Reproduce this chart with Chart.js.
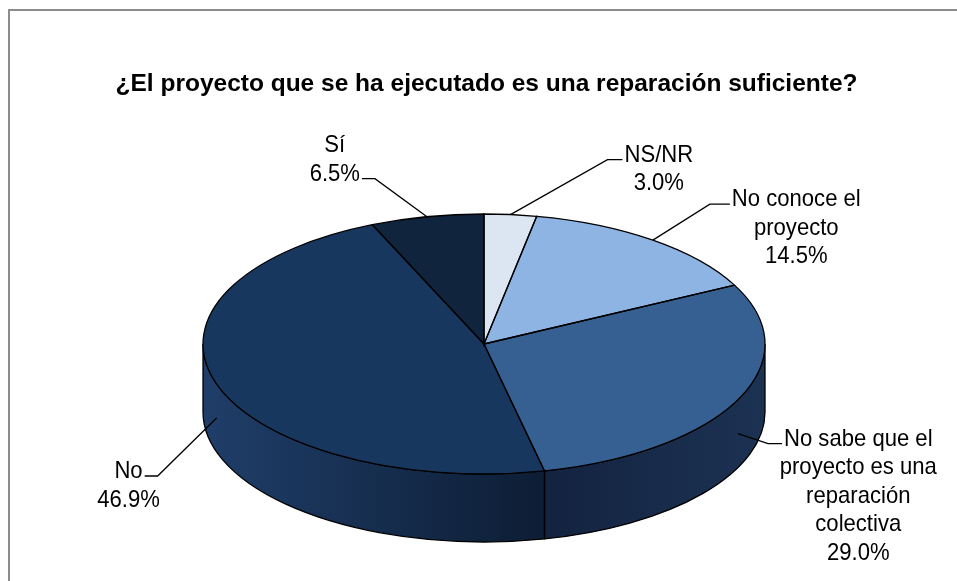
<!DOCTYPE html>
<html lang="es">
<head>
<meta charset="UTF-8">
<title>¿El proyecto que se ha ejecutado es una reparación suficiente?</title>
<script src="https://cdn.jsdelivr.net/npm/chart.js"></script>
<style>
  body { margin: 0; background: #fff; overflow: hidden; }
  .frame { position: absolute; left: 8px; top: 9px; width: 1000px; height: 700px; border: 2px solid #8c8c8c; }
  #wrap { position: absolute; left: 0; top: 0; width: 957px; height: 581px; }
</style>
</head>
<body>
<div class="frame"></div>
<div id="wrap"><canvas id="pieChart"></canvas></div>
<script>
// data, in drawing order (clockwise from the top)
const categories = ['NS/NR', 'No conoce el proyecto', 'No sabe que el proyecto es una reparación colectiva', 'No', 'Sí'];
const labelLines = [['NS/NR'], ['No conoce el', 'proyecto'], ['No sabe que el', 'proyecto es una', 'reparación', 'colectiva'], ['No'], ['Sí']];
const values = [3.0, 14.5, 29.0, 46.9, 6.5];
const valueLabels = ['3.0%', '14.5%', '29.0%', '46.9%', '6.5%'];

const faceColors = ['#DCE6F2', '#8EB4E3', '#376092', '#17375E', '#10243E'];
const sideColors = [['#6b7a8c', '#6b7a8c'], ['#44618a', '#44618a'], ['#132340', '#1c3253'], ['#1f3e69', '#0d1d34'], ['#0a1628', '#0a1628']];

const FONT = "'Liberation Sans Narrow', 'Arial Narrow', 'Liberation Sans', Arial, sans-serif";
const LABEL_SQUEEZE = 0.92; // regular Liberation Sans squeezed a bit to look like Arial Narrow

// where the flattened pie sits on the page
const tilt = { cx: 484, cy: 344, rx: 281, ry: 130, depth: 68 };

// leader line layout for each label
const labelLayout = [
    { ex: 97, ey: -55, hx: 15, join: 'first' },
    { ex: 57, ey: -36, hx: 20, join: 'first' },
    { ex: 30, ey: 10, hx: 14, join: 'first' },
    { ex: -59, ey: 58, hx: -13, join: 'first' },
    { ex: -52, ey: -38, hx: -13, join: 'last' }
];

function withTilt(ctx, arc, fn) {
    ctx.save();
    ctx.translate(tilt.cx, tilt.cy);
    ctx.scale(tilt.rx / arc.outerRadius, tilt.ry / arc.outerRadius);
    ctx.translate(-arc.x, -arc.y);
    fn();
    ctx.restore();
}

const pie3d = {
    id: 'pie3d',
    beforeDatasetsDraw(chart) {
        const ctx = chart.ctx;
        const arcs = chart.getDatasetMeta(0).data;
        // sides of the front half
        arcs.forEach((arc, i) => {
            const a0 = Math.max(arc.startAngle, 0);
            const a1 = Math.min(arc.endAngle, Math.PI);
            if (a1 <= a0) return;
            const D = tilt.depth * arc.outerRadius / tilt.ry;
            withTilt(ctx, arc, () => {
                ctx.beginPath();
                ctx.arc(arc.x, arc.y, arc.outerRadius, a0, a1);
                ctx.arc(arc.x, arc.y + D, arc.outerRadius, a1, a0, true);
                ctx.closePath();
            });
            const xa = tilt.cx + tilt.rx * Math.cos(a0);
            const xb = tilt.cx + tilt.rx * Math.cos(a1);
            const g = ctx.createLinearGradient(Math.min(xa, xb), 0, Math.max(xa, xb), 0);
            g.addColorStop(0, sideColors[i][0]);
            g.addColorStop(1, sideColors[i][1]);
            ctx.fillStyle = g;
            ctx.fill();
            ctx.lineWidth = 1.3;
            ctx.strokeStyle = '#000';
            ctx.stroke();
        });
        // top faces are drawn by Chart.js inside this transform
        const a = arcs[0];
        ctx.save();
        ctx.translate(tilt.cx, tilt.cy);
        ctx.scale(tilt.rx / a.outerRadius, tilt.ry / a.outerRadius);
        ctx.translate(-a.x, -a.y);
    },
    afterDatasetsDraw(chart) {
        const ctx = chart.ctx;
        ctx.restore();
        const arcs = chart.getDatasetMeta(0).data;
        arcs.forEach(arc => {
            withTilt(ctx, arc, () => {
                ctx.beginPath();
                ctx.moveTo(arc.x, arc.y);
                ctx.arc(arc.x, arc.y, arc.outerRadius, arc.startAngle, arc.endAngle);
                ctx.closePath();
            });
            ctx.lineWidth = 1.3;
            ctx.strokeStyle = '#000';
            ctx.stroke();
        });
    },
    afterDraw(chart) {
        const ctx = chart.ctx;
        const arcs = chart.getDatasetMeta(0).data;
        const lineH = 28.5;
        ctx.save();
        ctx.font = '24px ' + FONT;
        ctx.fillStyle = '#000';
        ctx.textAlign = 'center';
        ctx.textBaseline = 'alphabetic';
        arcs.forEach((arc, i) => {
            const mid = (arc.startAngle + arc.endAngle) / 2;
            const c = Math.cos(mid), s = Math.sin(mid);
            const ax = tilt.cx + tilt.rx * c;
            const ay = tilt.cy + tilt.ry * s + (s > 0 ? tilt.depth / 2 : 0);
            const L = labelLayout[i];
            const ex = ax + L.ex, ey = ay + L.ey;
            const fx = ex + L.hx;
            ctx.beginPath();
            ctx.moveTo(ax, ay);
            ctx.lineTo(ex, ey);
            ctx.lineTo(fx, ey);
            ctx.lineWidth = 1.3;
            ctx.strokeStyle = '#000';
            ctx.stroke();

            const lines = labelLines[i].concat(valueLabels[i]);
            const j = L.join === 'first' ? 0 : lines.length - 1;
            const w = ctx.measureText(lines[j]).width * LABEL_SQUEEZE;
            const centerX = L.hx > 0 ? fx + 2 + w / 2 : fx - 2 - w / 2;
            const baseY = ey + 2;
            lines.forEach((t, k) => {
                ctx.save();
                ctx.translate(centerX, baseY + (k - j) * lineH);
                ctx.scale(LABEL_SQUEEZE, 1);
                ctx.fillText(t, 0, 0);
                ctx.restore();
            });
        });
        ctx.restore();
    }
};

new Chart(document.getElementById('pieChart'), {
    type: 'pie',
    data: {
        labels: categories,
        datasets: [{
            data: values,
            backgroundColor: faceColors,
            borderWidth: 0,
            clip: false
        }]
    },
    options: {
        responsive: true,
        maintainAspectRatio: false,
        animation: false,
        events: [],
        layout: { padding: { left: 16, top: 0, right: 0, bottom: 0 } },
        plugins: {
            legend: { display: false },
            tooltip: { enabled: false },
            title: {
                display: true,
                text: '¿El proyecto que se ha ejecutado es una reparación suficiente?',
                color: '#000',
                font: { family: FONT, size: 24.5, weight: 'bold' },
                padding: { top: 70, bottom: 10 }
            }
        }
    },
    plugins: [pie3d]
});
</script>
</body>
</html>
